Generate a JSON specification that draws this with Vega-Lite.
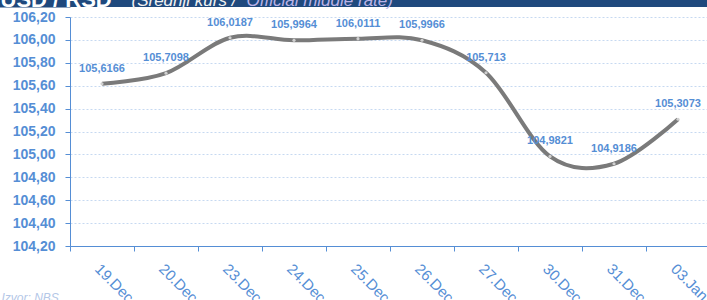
{
  "$schema": "https://vega.github.io/schema/vega-lite/v6.json",
  "background": "white",
  "padding": {"left": -6, "right": 0, "top": -12, "bottom": 0},
  "spacing": 0,
  "config": {
    "locale": {"number": {"decimal": ",", "thousands": ".", "grouping": [3], "currency": ["", ""]}},
    "view": {"stroke": null},
    "font": "Liberation Sans"
  },
  "datasets": {
    "rates": [
      {"day": "19.Dec", "rate": 105.6166},
      {"day": "20.Dec", "rate": 105.7098},
      {"day": "23.Dec", "rate": 106.0187},
      {"day": "24.Dec", "rate": 105.9964},
      {"day": "25.Dec", "rate": 106.0111},
      {"day": "26.Dec", "rate": 105.9966},
      {"day": "27.Dec", "rate": 105.713},
      {"day": "30.Dec", "rate": 104.9821},
      {"day": "31.Dec", "rate": 104.9186},
      {"day": "03.Jan", "rate": 105.3073}
    ]
  },
  "data": {"name": "rates"},
  "vconcat": [
    {
      "width": 640,
      "height": 8,
      "view": {"fill": "#1F497D", "stroke": null},
      "layer": [
        {
          "mark": {"type": "tick", "opacity": 0},
          "encoding": {
            "x": {"field": "day", "type": "ordinal", "sort": null,
              "axis": {"orient": "top", "labels": false, "ticks": false, "domain": false, "grid": false,
                "title": "(Srednji kurs /", "titleX": 61, "titleY": 6, "titleAlign": "left", "titleAnchor": "start",
                "titleBaseline": "alphabetic", "titleFontSize": 17, "titleFontStyle": "italic", "titleFontWeight": "normal", "titleColor": "#F2F2F2"}},
            "y": {"field": "rate", "type": "quantitative", "scale": {"domain": [104, 106]},
              "axis": {"values": [105], "labels": false, "ticks": true, "tickSize": 72, "tickWidth": 8, "tickColor": "#1F497D", "tickCap": "butt",
                "domain": false, "grid": false,
                "title": "USD / RSD", "titleAngle": 0, "titleX": -70, "titleY": 7, "titleAlign": "left", "titleAnchor": "start",
                "titleBaseline": "alphabetic", "titleFontSize": 22, "titleFontWeight": "bold", "titleColor": "#FFFFFF"}}
          }
        },
        {
          "mark": {"type": "tick", "opacity": 0},
          "encoding": {
            "x": {"field": "day", "type": "ordinal", "sort": null,
              "axis": {"orient": "bottom", "labels": false, "ticks": false, "domain": false, "grid": false,
                "title": "Official middle rate)", "titleX": 176, "titleY": -2, "titleAlign": "left", "titleAnchor": "start",
                "titleBaseline": "alphabetic", "titleFontSize": 17, "titleFontStyle": "italic", "titleFontWeight": "normal", "titleColor": "#B9B2E6"}}
          }
        }
      ],
      "resolve": {"axis": {"x": "independent"}}
    },
    {
      "width": 640,
      "height": 229,
      "encoding": {
        "x": {"field": "day", "type": "ordinal", "sort": null,
          "scale": {"type": "band", "paddingInner": 0, "paddingOuter": 0},
          "axis": {"title": null, "labelAngle": 45, "labelAlign": "left", "labelBaseline": "top", "labelPadding": 10,
            "labelFontSize": 15, "labelColor": "#558ED5", "tickBand": "extent", "tickSize": 5, "tickColor": "#558ED5",
            "domainColor": "#558ED5", "grid": false}},
        "y": {"field": "rate", "type": "quantitative",
          "scale": {"domain": [104.2, 106.2], "nice": false, "zero": false},
          "axis": {"values": [104.2, 104.4, 104.6, 104.8, 105.0, 105.2, 105.4, 105.6, 105.8, 106.0, 106.2],
            "format": ".2f", "labelFontWeight": "bold", "labelFontSize": 14, "labelColor": "#558ED5", "labelPadding": 10,
            "tickSize": 5, "tickColor": "#558ED5", "domainColor": "#558ED5",
            "grid": true, "gridColor": "#C6D9F1", "gridDash": [2, 2],
            "title": "Izvor: NBS", "titleAngle": 0, "titleX": -69, "titleY": 280, "titleAlign": "left", "titleBaseline": "middle",
            "titleFontSize": 12, "titleFontStyle": "italic", "titleFontWeight": "normal", "titleColor": "#B4C7E7"}}
      },
      "layer": [
        {"mark": {"type": "line", "interpolate": "cardinal", "color": "#7A7A7A", "strokeWidth": 4}},
        {"mark": {"type": "point", "filled": true, "color": "#D0D0D0", "size": 10, "opacity": 1}},
        {"mark": {"type": "text", "dy": -15, "fontSize": 11, "fontWeight": "bold", "color": "#558ED5"},
          "encoding": {"text": {"field": "rate", "type": "quantitative", "format": ".4~f"}}}
      ]
    }
  ]
}
